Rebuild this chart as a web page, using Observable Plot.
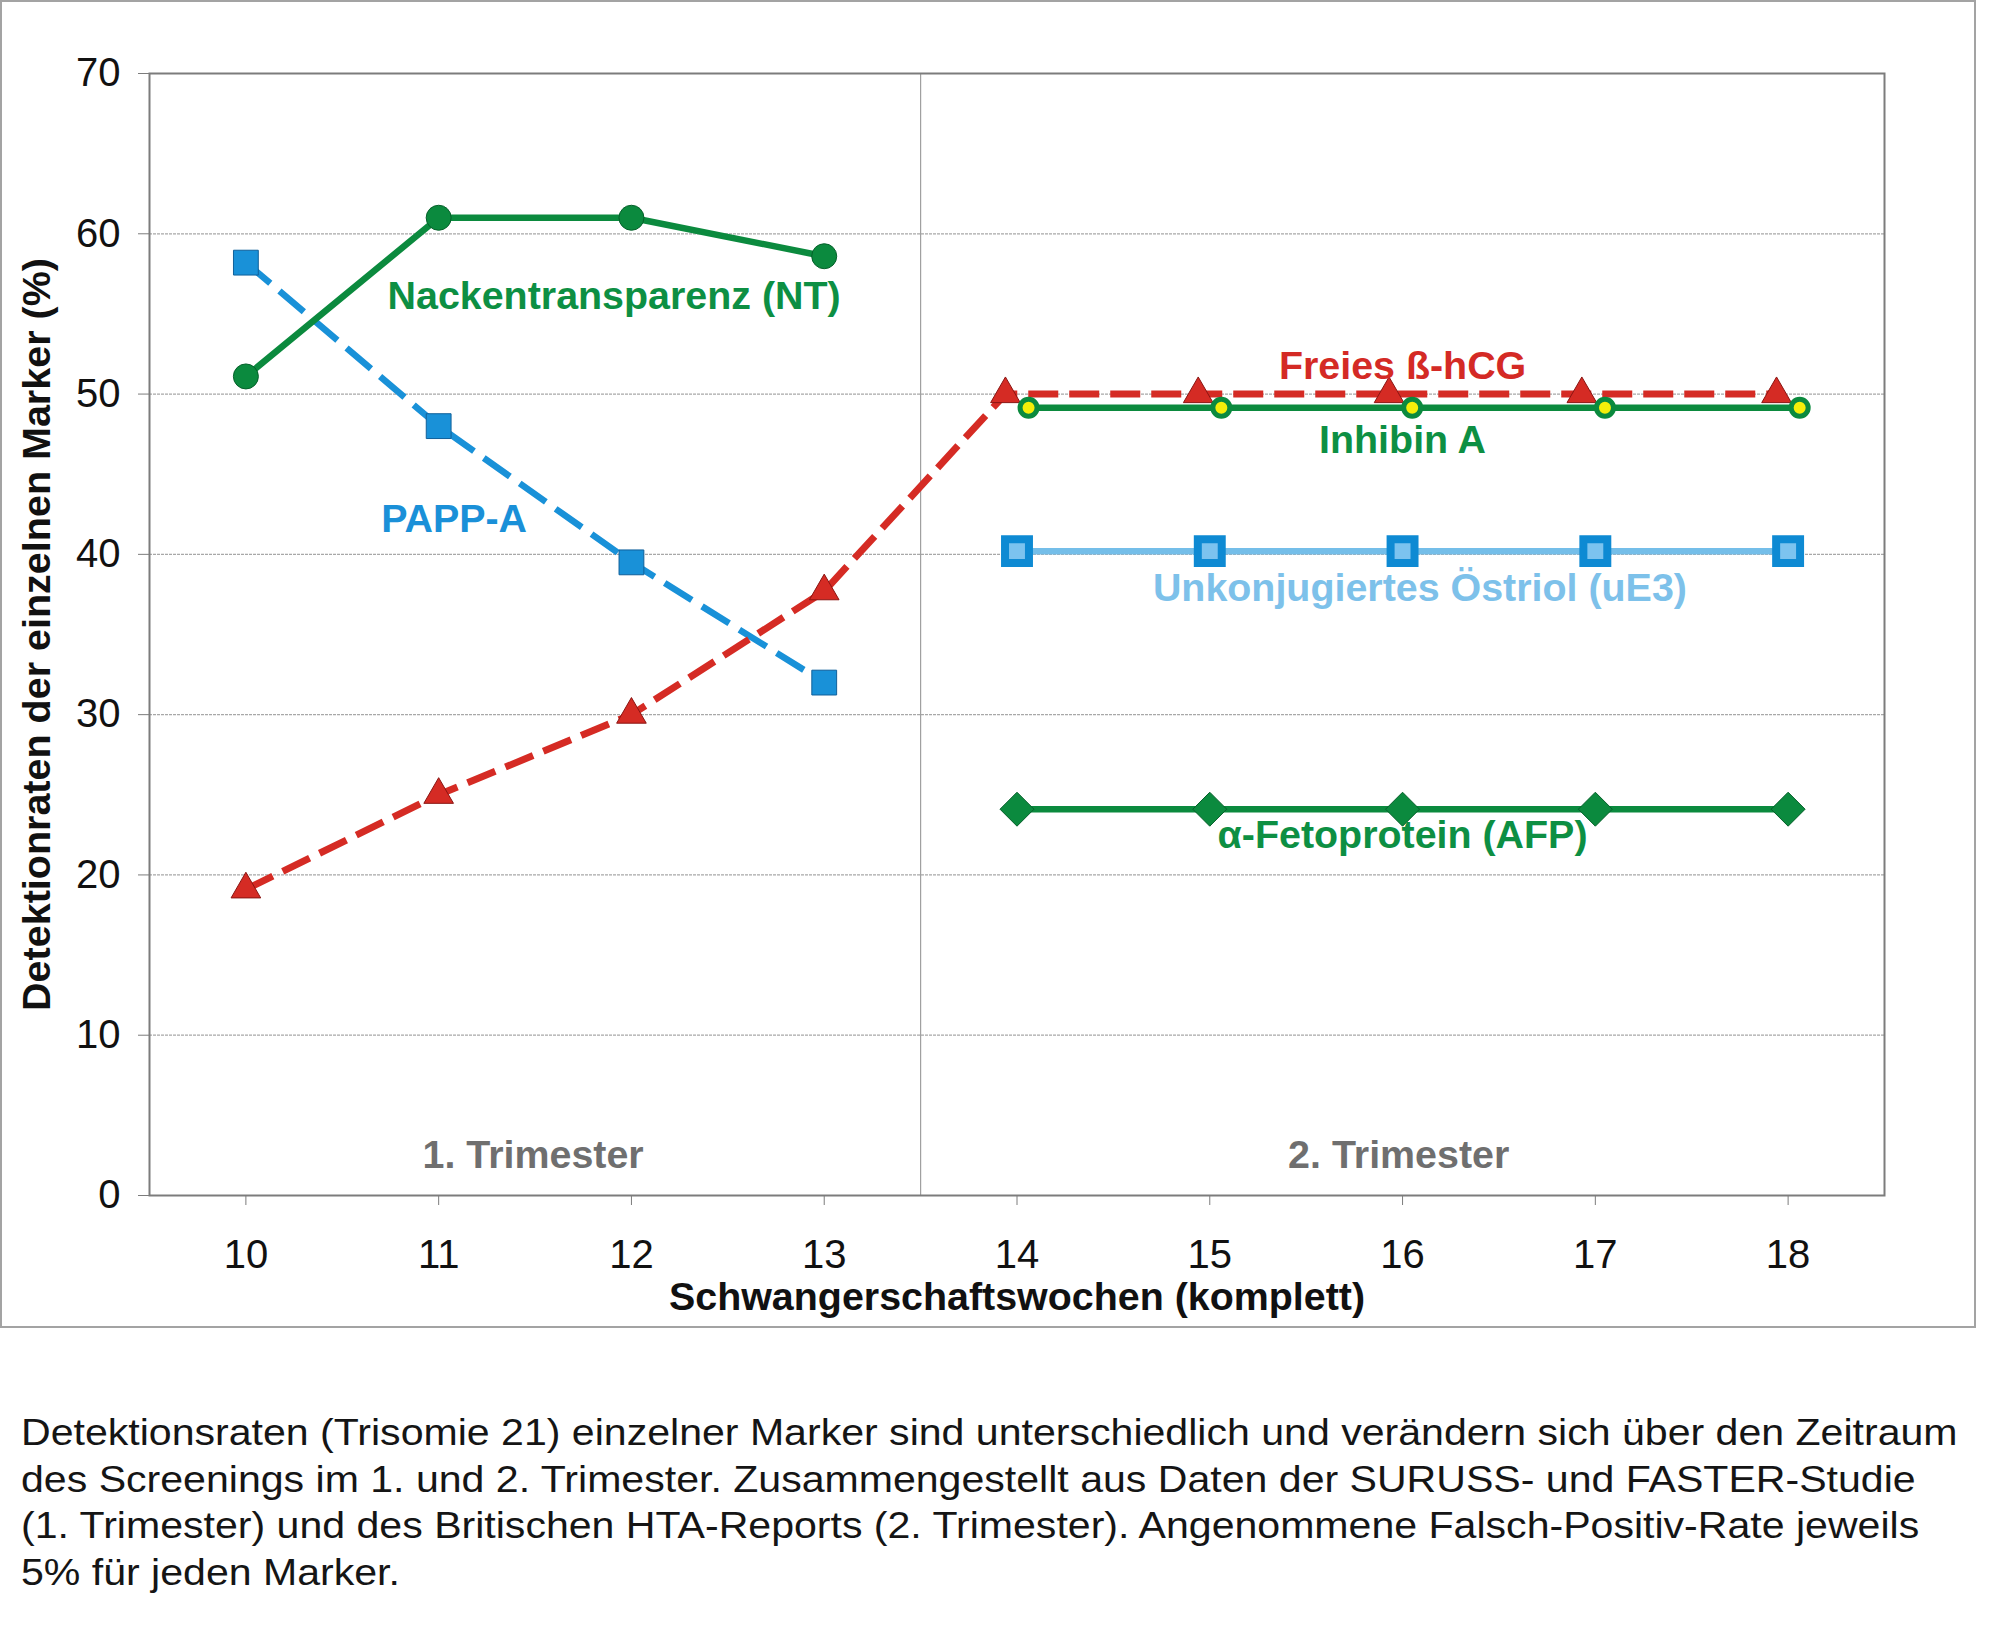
<!DOCTYPE html>
<html><head><meta charset="utf-8">
<script src="https://cdn.jsdelivr.net/npm/d3@7"></script>
<script src="https://cdn.jsdelivr.net/npm/@observablehq/plot@0.6"></script>
<style>
html,body{margin:0;padding:0;background:#fff;}
body{width:2000px;height:1638px;position:relative;font-family:"Liberation Sans",Arial,sans-serif;overflow:hidden;}
#frame{position:absolute;left:0;top:0;width:1972px;height:1324px;border:2px solid #a3a3a3;background:#fff;}
#frame svg{display:block;}
#caption{position:absolute;left:21px;top:1410px;font-size:37px;line-height:46.5px;color:#151515;white-space:nowrap;transform:scaleX(1.11);transform-origin:0 0;}
</style></head><body>
<div id="frame"></div>
<div id="caption"></div>
<script>
// ---- data ----
const xTicks = [10, 11, 12, 13, 14, 15, 16, 17, 18];
const yTicks = [0, 10, 20, 30, 40, 50, 60, 70];
const gridTicks = [10, 20, 30, 40, 50, 60];

const ntWeeks = [10, 11, 12, 13];
const ntValues = [51.1, 61.0, 61.0, 58.6];

const pappaWeeks = [10, 11, 12, 13];
const pappaValues = [58.2, 48.0, 39.5, 32.0];

const hcgWeeks = [10, 11, 12, 13, 13.94, 14.94, 15.93, 16.93, 17.94];
const hcgValues = [19.1, 25.0, 30.0, 37.7, 50.0, 50.0, 50.0, 50.0, 50.0];

const inhibinWeeks = [14.06, 15.06, 16.05, 17.05, 18.06];
const inhibinValues = [49.15, 49.15, 49.15, 49.15, 49.15];

const ue3Weeks = [14, 15, 16, 17, 18];
const ue3Values = [40.2, 40.2, 40.2, 40.2, 40.2];

const afpWeeks = [14, 15, 16, 17, 18];
const afpValues = [24.1, 24.1, 24.1, 24.1, 24.1];

const labelTexts = ["Nackentransparenz (NT)", "PAPP-A", "Freies ß-hCG", "Inhibin A",
  "Unkonjugiertes Östriol (uE3)", "α-Fetoprotein (AFP)", "1. Trimester", "2. Trimester"];
const labelX = [11.91, 11.08, 16.0, 16.0, 16.09, 16.0, 11.49, 15.98];
const labelY = [55.3, 41.4, 50.95, 46.35, 37.1, 21.7, 1.7, 1.7];
const labelColors = ["#0d8f43", "#1a90d8", "#d42a25", "#0d8f43", "#7dc1ea", "#0d8f43", "#6f6f6f", "#6f6f6f"];

const trimesterBoundary = [13.5];

const yLabel = "Detektionraten der einzelnen Marker (%)";
const xLabel = "Schwangerschaftswochen (komplett)";

const captionLines = [
  "Detektionsraten (Trisomie 21) einzelner Marker sind unterschiedlich und verändern sich über den Zeitraum",
  "des Screenings im 1. und 2. Trimester. Zusammengestellt aus Daten der SURUSS- und FASTER-Studie",
  "(1. Trimester) und des Britischen HTA-Reports (2. Trimester). Angenommene Falsch-Positiv-Rate jeweils",
  "5% für jeden Marker."
];

// ---- colours ----
const green = "#0b8a3e";
const red = "#d52b24";
const blue = "#1991d8";
const lightBlue = "#74bee9";

const diamond2 = d3.symbolDiamond2 || {
  draw(ctx, size) { const r = Math.sqrt(size) * 0.62625; ctx.moveTo(0, -r); ctx.lineTo(r, 0); ctx.lineTo(0, r); ctx.lineTo(-r, 0); ctx.closePath(); }
};

const labelMarks = labelTexts.map((t, i) => Plot.text([t], {
  x: [labelX[i]], y: [labelY[i]], text: d => d,
  fill: labelColors[i], fontWeight: "bold", fontSize: 39.4, lineAnchor: "bottom", textAnchor: "middle"
}));

const chart = Plot.plot({
  width: 1972, height: 1324,
  marginLeft: 147, marginRight: 90, marginTop: 71, marginBottom: 131,
  x: {domain: [9.5, 18.5]},
  y: {domain: [0, 70]},
  style: {fontFamily: "'Liberation Sans', Arial, sans-serif", background: "white", overflow: "visible", color: "#111"},
  marks: [
    Plot.gridY(gridTicks, {stroke: "#a8a8a8", strokeOpacity: 1, strokeWidth: 1.2, strokeDasharray: "3,1"}),
    Plot.ruleX(trimesterBoundary, {stroke: "#a0a0a0", strokeWidth: 1.2}),
    Plot.frame({stroke: "#7c7c7c", strokeWidth: 2}),
    Plot.axisY({ticks: yTicks, tickSize: 11, tickPadding: 18, fontSize: 40, stroke: "#7c7c7c", fill: "#111", label: null, tickFormat: d => String(d)}),
    Plot.axisX({ticks: xTicks, tickSize: 10, tickPadding: 33.6, fontSize: 40, stroke: "#7c7c7c", fill: "#111", label: null, tickFormat: d => String(d)}),
    // PAPP-A
    Plot.line(pappaValues, {x: pappaWeeks, y: pappaValues, stroke: blue, strokeWidth: 6.5, strokeDasharray: "32,12", strokeLinecap: "butt"}),
    Plot.dot(pappaValues, {x: pappaWeeks, y: pappaValues, symbol: "square", r: 14, fill: blue, stroke: "#10609a", strokeWidth: 1}),
    // NT
    Plot.line(ntValues, {x: ntWeeks, y: ntValues, stroke: green, strokeWidth: 6.5}),
    Plot.dot(ntValues, {x: ntWeeks, y: ntValues, symbol: "circle", r: 12.5, fill: green, stroke: "#05602a", strokeWidth: 1}),
    // free beta-hCG
    Plot.line(hcgValues, {x: hcgWeeks, y: hcgValues, stroke: red, strokeWidth: 7, strokeDasharray: "30,11", strokeLinecap: "butt"}),
    Plot.dot(hcgValues, {x: hcgWeeks, y: hcgValues, symbol: "triangle", r: 11, fill: red, stroke: "#8a1512", strokeWidth: 1}),
    // Inhibin A
    Plot.line(inhibinValues, {x: inhibinWeeks, y: inhibinValues, stroke: green, strokeWidth: 6.5}),
    Plot.dot(inhibinValues, {x: inhibinWeeks, y: inhibinValues, symbol: "circle", r: 8.5, fill: "#f4ee0a", stroke: green, strokeWidth: 5}),
    // uE3
    Plot.line(ue3Values, {x: ue3Weeks, y: ue3Values, stroke: lightBlue, strokeWidth: 6.5}),
    Plot.dot(ue3Values, {x: ue3Weeks, y: ue3Values, symbol: "square", r: 13.5, fill: "#7cc3ef", stroke: "#0e8ad3", strokeWidth: 8}),
    // AFP
    Plot.line(afpValues, {x: afpWeeks, y: afpValues, stroke: green, strokeWidth: 6.5}),
    Plot.dot(afpValues, {x: afpWeeks, y: afpValues, symbol: diamond2, r: 15.3, fill: green, stroke: "#05602a", strokeWidth: 1}),
    ...labelMarks,
    // axis titles
    Plot.text([yLabel], {frameAnchor: "left", text: d => d, rotate: -90, dx: -99.5, lineAnchor: "bottom", textAnchor: "middle", fontWeight: "bold", fontSize: 39.5, fill: "#111"}),
    Plot.text([xLabel], {frameAnchor: "bottom", text: d => d, dy: 114.5, lineAnchor: "bottom", textAnchor: "middle", fontWeight: "bold", fontSize: 39.4, fill: "#111"})
  ]
});
document.getElementById("frame").appendChild(chart);

const cap = document.getElementById("caption");
captionLines.forEach(line => { const d = document.createElement("div"); d.textContent = line; cap.appendChild(d); });
</script>
</body></html>
